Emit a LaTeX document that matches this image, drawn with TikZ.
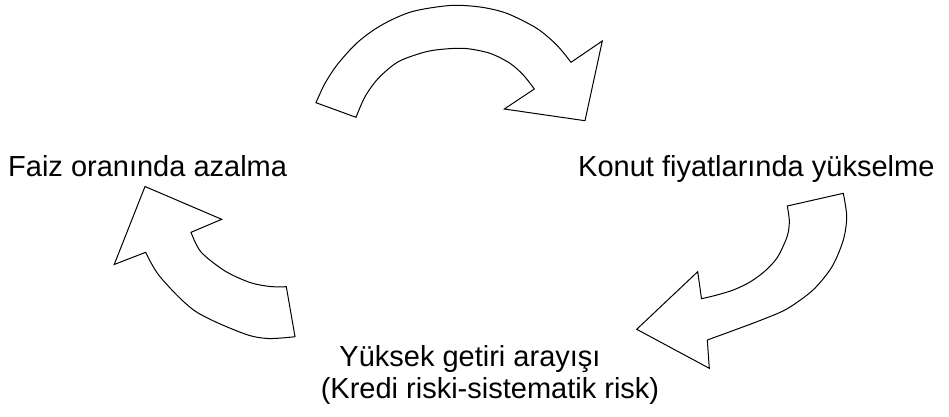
\documentclass[tikz,border=0pt]{standalone}
\usepackage{fontspec}
\setmainfont{Liberation Sans}
\begin{document}
\begin{tikzpicture}[x=1pt,y=-1pt,
  bentarrow/.style={draw=black,fill=white,line width=1pt,line join=miter},
  label/.style={inner sep=0pt,font=\fontsize{29}{34}\selectfont}]
\useasboundingbox (0,0) rectangle (949,416);

% labels of the cycle
\node[label,anchor=base west] (rate)  at (8,176)   {Faiz oranında azalma};
\node[label,anchor=base west] (house) at (578,176) {Konut fiyatlarında yükselme};
\node[label,anchor=base] (yield) at (470,366) {Yüksek getiri arayışı};
\node[label,anchor=base] (risk)  at (490,398) {(Kredi riski-sistematik risk)};

% top arrow: rate -> house
\draw[bentarrow]
  plot[smooth] coordinates {(316,102.7) (325,83.3) (338.3,63.3) (358.3,41.7) (381.7,25)
    (411.7,11.7) (450,5.5) (480,7) (506.7,13.3) (536.7,28.3) (556.7,45) (571,62.3)}
  -- (602.3,41) -- (585,120.7) -- (504.3,109)
  -- plot[smooth] coordinates {(534.3,89) (523.3,75) (510,63.3) (490,53.3) (466,48.5)
    (445,49) (425,52) (398.3,61.7) (378.3,78.3) (365,96.7) (356,117.3)}
  -- cycle;

% right arrow: house -> yield
\draw[bentarrow]
  plot[smooth] coordinates {(843.3,193.3) (846.7,216.7) (843.3,240) (832,266.7) (813,290)
    (786.7,309) (760,320.5) (730,331.7) (707.3,340)}
  -- (709.3,368.3) -- (636.7,329.3) -- (697.7,271.7)
  -- plot[smooth] coordinates {(701.5,298.7) (715,295.5) (733.3,290) (750,282) (765,271)
    (777,258) (785,242) (788.3,232) (789.3,220) (787.3,206)}
  -- cycle;

% left arrow: yield -> rate
\draw[bentarrow]
  plot[smooth] coordinates {(295,336.7) (268,338.5) (243,333.3) (195,311)
    (160,276.7) (145.7,252.3)}
  -- (114.2,264.5) -- (145,186.5) -- (221.7,219.3)
  -- plot[smooth] coordinates {(191,232.3) (201,252) (225,271) (250,282.5)
    (270,286.5) (286.3,286.7)}
  -- cycle;
\end{tikzpicture}
\end{document}
